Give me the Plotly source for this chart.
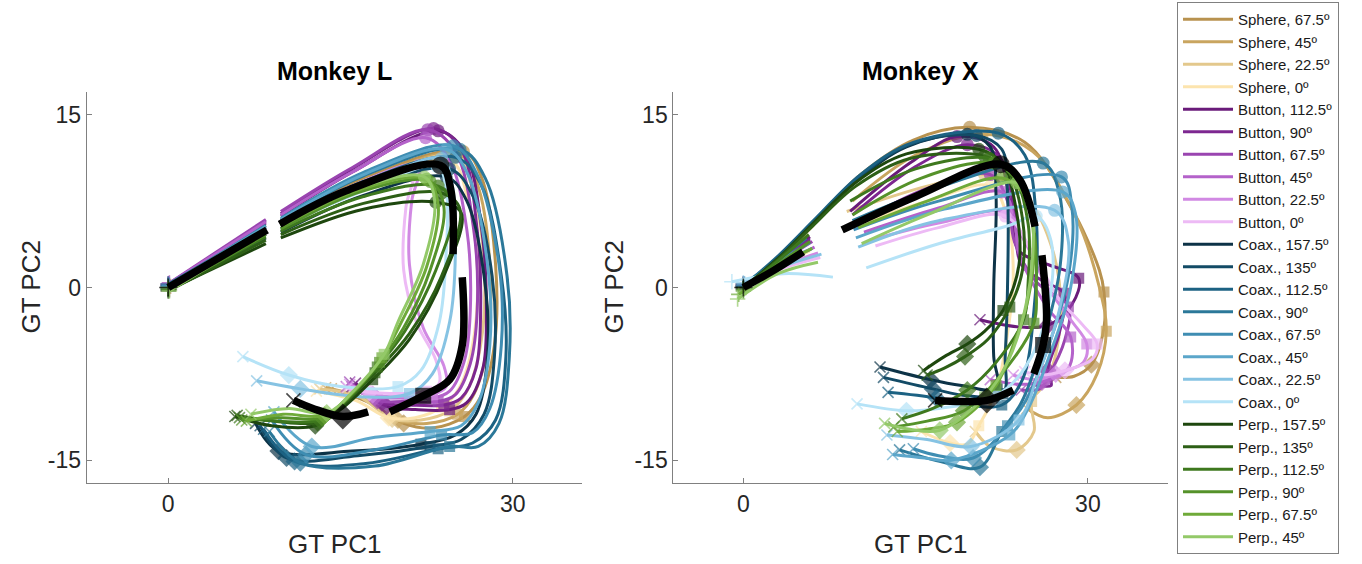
import plotly.graph_objects as go

# ---------------- conditions / colours ----------------
CONDITIONS = [
    "Sphere, 67.5º", "Sphere, 45º", "Sphere, 22.5º", "Sphere, 0º",
    "Button, 112.5º", "Button, 90º", "Button, 67.5º", "Button, 45º", "Button, 22.5º", "Button, 0º",
    "Coax., 157.5º", "Coax., 135º", "Coax., 112.5º", "Coax., 90º", "Coax., 67.5º", "Coax., 45º",
    "Coax., 22.5º", "Coax., 0º",
    "Perp., 157.5º", "Perp., 135º", "Perp., 112.5º", "Perp., 90º", "Perp., 67.5º", "Perp., 45º",
]
COLORS = [
    "#B8924F", "#C9A55F", "#E3C88C", "#FCE4AE",
    "#6A1B7A", "#7D2790", "#9A45B0", "#B462CA", "#D189E3", "#EDBAF5",
    "#0D3347", "#134B66", "#1C6283", "#2B7899", "#3F8DB2", "#5BA6CA", "#86C3E3", "#B5E3F7",
    "#1E470E", "#2D5F16", "#3E781E", "#55922A", "#6FAA39", "#93C968",
]

# Trajectories: (x, y) points, (x, y, event) where event is o=circle, s=square, d=diamond;
# None = gap. Start (+) is the first point, end (x) the last point.

# ---------------- Monkey L ----------------
L_SPHERE = [
    [(0.2, 0.1), (8.5, 5.4), None, (9.8, 5.9), (17, 9.5), (25.7, 11.8, 'o'), (27.3, 9.5), (28.5, 2), (28.4, -5), (27.2, -9.5), (25.8, -11.2, 's'), (23, -12.2), (20.5, -11.8, 'd'), (17.5, -10), (14.2, -8.8)],
    [(0, 0.1), (8.5, 5.2), None, (9.8, 5.7), (17, 9.2), (25.3, 11.6, 'o'), (26.9, 9), (28, 2), (27.8, -5), (26.6, -9.3), (25.2, -11, 's'), (22.5, -11.8), (20, -11.5, 'd'), (17, -9.6), (13.7, -8.7)],
    [(0, -0.1), (8.5, 5.0), None, (9.8, 5.5), (17, 9), (25, 11.4, 'o'), (26.5, 8.5), (27.5, 2), (27.2, -5), (26, -9), (24.5, -10.7, 's'), (22, -11.5), (19.5, -11.4, 'd'), (16.5, -9.4), (13.2, -8.8)],
    [(0.1, 0), (8.5, 4.9), None, (9.8, 5.4), (17, 8.8), (24.6, 11.0, 'o'), (26, 8), (26.9, 2), (26.5, -5), (25.3, -8.8), (23.8, -10.4, 's'), (21.5, -11.3), (19.2, -11.3, 'd'), (16.3, -9.8), (12.9, -9.0)],
]
L_BUTTON = [
    [(0, 0.3), (8.5, 5.6), None, (9.8, 6.2), (16, 10), (23.5, 13.6, 'o'), (25.8, 11.8), (27.3, 5), (27.7, -2), (27.4, -7), (26, -10), (24.5, -10.6, 's'), (21.5, -10.6), (19, -10.3, 'd'), (16.3, -8.3)],
    [(0, 0.2), (8.5, 5.8), None, (9.8, 6.4), (16, 10.3), (23.1, 13.8, 'o'), (25.5, 12), (26.9, 5), (27.2, -2), (26.8, -7), (25.5, -9.6), (24, -10.2, 's'), (21, -10.2), (18.6, -10, 'd'), (16, -8.6)],
    [(0.1, 0.4), (8.5, 5.9), None, (9.8, 6.6), (16, 10.4), (22.6, 13.7, 'o'), (25, 11.8), (26.6, 5), (26.9, -2), (26.3, -6.6), (25, -9.3), (23.5, -9.9, 's'), (20.5, -9.9), (18.2, -9.8, 'd'), (15.8, -8.2)],
    [(0, 0.3), (8.5, 5.7), None, (9.8, 6.3), (16, 10), (22.4, 13, 'o'), (24.5, 11), (26, 5), (26.3, -2), (25.8, -6.3), (24.5, -9), (23, -9.6, 's'), (20.2, -9.6), (18, -9.5, 'd'), (15.5, -8.6)],
    [(0.1, -0.2), (8.5, 5.2), None, (9.8, 5.8), (15.5, 8.6), (21.8, 10.6, 'o'), (21.2, 7.5), (21, 2), (22.2, -3.5), (24, -6.8), (24.2, -8.6), (23, -9.3, 's'), (20, -9.5), (17.8, -9.3, 'd'), (15.8, -8.4)],
    [(0, -0.3), (8.5, 5.0), None, (9.8, 5.6), (15.5, 8.4), (21.3, 10.2, 'o'), (20.7, 7), (20.5, 1.5), (21.6, -3), (23.3, -6.3), (23.6, -8.3), (22.5, -9, 's'), (19.5, -9.2), (17.5, -9.1, 'd'), (15.6, -8.7)],
]
L_COAX = [
    [(0, 0), (8.5, 4.3), None, (9.8, 4.8), (17, 8), (24.2, 9.6, 'o'), (26, 7.5), (27.5, 1), (27.8, -6), (26.8, -11), (25, -12.8), (22, -13.6, 's'), (16, -14.2), (9.6, -14.2, 'd'), (7.6, -11.8)],
    [(0, 0.1), (8.5, 4.6), None, (9.8, 5.1), (17, 8.5), (24.5, 10.3, 'o'), (26.5, 8), (28.2, 1), (28.4, -6), (27.5, -11), (25.5, -13.2), (22.8, -13.8, 's'), (16.5, -14.6), (10.3, -14.8, 'd'), (8, -12)],
    [(0, 0.2), (8.5, 5.0), None, (9.8, 5.5), (17, 9.2), (25, 11.3, 'o'), (27.2, 9), (29, 1), (29.4, -6), (28.5, -11.5), (26.5, -13.5), (23.5, -14, 's'), (17, -15.3), (11, -15.1, 'd'), (8.3, -12.3)],
    [(0, 0.3), (8.5, 5.2), None, (9.8, 5.8), (17, 9.7), (25.4, 12, 'o'), (27.6, 9.5), (29.5, 1), (29.7, -6), (28.8, -11.8), (27, -13.8), (24.5, -13.8, 's'), (18, -15.5), (11.5, -15.2, 'd'), (8.8, -12.5)],
    [(0.1, 0.2), (8.5, 5.4), None, (9.8, 6), (17, 10), (24.8, 12.3, 'o'), (26.8, 10), (28.8, 2), (29, -5), (28, -10.5), (26.5, -12.6), (23.8, -12.8, 's'), (18.5, -14), (12, -14.5, 'd'), (9, -11.5)],
    [(0, 0.1), (8.5, 5.3), None, (9.8, 5.9), (17, 9.8), (24.2, 12, 'o'), (26, 10), (27.8, 2), (28, -5), (27, -10), (25.5, -12), (22.8, -12.5, 's'), (18, -13), (12.5, -13.8, 'd'), (9.2, -10.8)],
    [(0, -0.1), (8.5, 5.0), None, (9.8, 5.5), (17, 8.8), (23.8, 11.2, 'o'), (24.7, 9), (25, 3), (24.5, -3), (23, -7.5), (21, -9.2, 's'), (17, -9.5), (11.5, -8.8, 'd'), (7.7, -8.1)],
    [(0, -0.2), (8.5, 4.8), None, (9.8, 5.3), (17, 8.4), (23.4, 10.5, 'o'), (24.2, 8.5), (24.2, 3), (23.6, -3), (22, -7.2), (20, -8.6, 's'), (15, -8.6), (10.5, -7.6, 'd'), (6.5, -6.0)],
]
L_PERP = [
    [(0, -0.2), (8.5, 3.8), None, (9.8, 4.3), (17, 6.8), (23.3, 7.4, 'o'), (25.5, 6.5), (24, 1), (21, -4.5), (17.8, -8, 's'), (15, -10.6), (12.8, -12, 'd'), (9, -12), (5.8, -11.2)],
    [(0, -0.3), (8.5, 4.1), None, (9.8, 4.6), (17, 7.3), (23.8, 8.2, 'o'), (25.4, 6.8), (23.8, 1), (21, -4), (18, -7.4, 's'), (15.2, -10.2), (13, -11.7, 'd'), (9.3, -11.6), (6, -11.1)],
    [(0, -0.1), (8.5, 4.4), None, (9.8, 4.9), (17, 7.9), (23.5, 8.8, 'o'), (24.8, 7), (23.3, 1.5), (20.6, -3.8), (18.2, -6.9, 's'), (15.5, -9.8), (13.2, -11.5, 'd'), (9.5, -11.6), (6.2, -11.3)],
    [(0.1, -0.2), (8.5, 4.6), None, (9.8, 5.1), (17, 8.4), (22.8, 9.2, 'o'), (24, 7), (22.8, 1.5), (20.5, -3.5), (18.4, -6.5, 's'), (15.7, -9.5), (13.4, -11.3, 'd'), (9.8, -11.3), (6.4, -11.5)],
    [(0, 0), (8.5, 4.8), None, (9.8, 5.3), (17, 8.6), (22.5, 9.4, 'o'), (23.5, 7.2), (22.5, 1.8), (20.2, -3.2), (18.6, -6.1, 's'), (16, -9.2), (13.6, -11.1, 'd'), (10, -11), (6.8, -11.6)],
    [(0.1, -0.3), (8.5, 4.9), None, (9.8, 5.4), (17, 8.8), (22.3, 9.6, 'o'), (23.2, 7.5), (22.2, 2), (20, -3), (18.8, -5.8, 's'), (16.2, -8.9), (13.8, -10.9, 'd'), (10.5, -10.5), (7.2, -11)],
]
L_MEAN = [(0, 0), (8.6, 5.0), None, (9.7, 5.5), (15.5, 8.4), (23.7, 10.6, 'o'), (24.6, 8.5), (24.8, 2.9), None,
          (25.6, 0.9), (25.6, -5), (24.5, -8), (22.2, -9.4, 's'), (19.3, -10.8), None,
          (17.4, -10.8), (15.2, -11.2, 'd'), (12.6, -10.5), (10.9, -9.8)]

# ---------------- Monkey X ----------------
X_SPHERE = [
    [(0, 0), (3.3, 2.8), (6.3, 5.9), (10.2, 9.8), (14.8, 12.8), (19.7, 13.9, 'o'), (24.5, 12.6), (28.5, 7), (31, 1.5), (31.4, -0.4, 's'), (31.4, -3.5), (30.3, -6.7, 'd'), (28.8, -7.7), (27.2, -7.8)],
    [(0, 0.1), (3.2, 2.6), (6.1, 5.4), None, (9.5, 7.5), (15, 11.5), (20.8, 13.3, 'o'), (25.2, 11.8), (29, 6), (31, 0), (31.6, -3.8, 's'), (30.8, -7.5), (29, -10.2, 'd'), (26.5, -11.3), (24.7, -10.5)],
    [(0, 0.2), (3, 2.2), (5.6, 4.1), None, (9, 6.6), (16, 8.8), (21, 9.8, 'o'), (24.5, 8), (27, 3), (27.6, -3), (26.5, -8), (25.1, -9.9, 's'), (25.3, -12.5), (23.8, -14.1, 'd'), (21.5, -13.8), (20.2, -12.5)],
    [(0, 0.3), (3, 1.8), (5.8, 3.2), None, (9.2, 5.2), (16, 7.5), (21.5, 8.8, 'o'), (23, 6), (23.5, 1), (23, -4), (22, -9), (20.5, -12, 's'), (19.5, -13.6), (18, -13.5, 'd'), (15.5, -12.5)],
]
X_BUTTON = [
    [(0, 0.2), (3, 2.3), (5.8, 4.4), None, (9.3, 6.6), (14.5, 10.8), (18.6, 13.1, 'o'), (21.8, 12.2), (23.2, 7.5), (24, 3.2), (26.5, 2), (29.2, 0.8, 's'), (28.6, -1.5), (26.5, -3.3, 'd'), (23.8, -3.4), (20.6, -2.8)],
    [(0, 0.3), (3, 2.2), (5.8, 4.2), None, (9.5, 6.3), (15, 10.5), (19.5, 12.4, 'o'), (22.3, 11.3), (23.6, 6.5), (24.2, 2), (26.2, 0.5), (27.9, -0.5, 's'), (27.5, -4), (26.5, -7.2, 'd'), (26.8, -8.5), (25.3, -8.4)],
    [(0.1, 0.2), (3, 2.1), (6, 4.0), None, (10, 5.6), (16, 8.6), (21.5, 9.8, 'o'), (23, 7.5), (23.6, 4), (25.5, 0.5), (28.3, -1.7, 's'), (28, -4.5), (26.5, -7.8, 'd'), (25.8, -8.8), (24.2, -8.9)],
    [(0, 0.1), (3, 1.9), (6.2, 3.5), None, (10.5, 4.8), (17, 6.9), (22.5, 8.3, 'o'), (23.6, 6), (24, 3), (26.5, -1.8), (28.5, -4.3, 's'), (28.3, -7), (26, -8.2, 'd'), (24, -8.4), (21.5, -8.0)],
    [(0, 0), (3, 1.7), (6.5, 3), None, (11, 4.1), (17, 5.6), (22.9, 6.5, 'o'), (24.5, 4), (26.5, 0), (28.5, -2.8), (29.9, -4.9, 's'), (29.6, -6.5), (27.2, -7.5, 'd'), (25.5, -8), (23.5, -7.6)],
    [(0, -0.1), (3, 1.5), (6.7, 2.6), None, (11.5, 3.6), (17, 5.2), (22.8, 6.2, 'o'), (25.2, 3), (27.5, -1), (29.5, -3.2), (30.8, -4.9, 's'), (30.4, -6.2), (28, -7.2, 'd'), (26, -7.6), (24.5, -7.3)],
]
X_COAX = [
    [(0, 0.1), (3.2, 2.7), (6.1, 5.6), (9.9, 9.3), (14.2, 12.2), (19.5, 13.3, 'o'), (21.5, 12.2), (22, 8), (21.8, 0), (21.8, -6), (22.1, -8.8, 's'), (19, -8.5), (16.3, -8, 'd'), (11.9, -6.9)],
    [(0, 0), (3.2, 2.8), (6.2, 5.8), (10, 9.5), (14.5, 12.4), (20.3, 13.2, 'o'), (22.5, 12), (23, 8), (23, 0), (22.8, -6), (22.6, -9.2, 's'), (19.5, -9.4), (16.5, -8.8, 'd'), (12.2, -7.8)],
    [(0, 0.1), (3.2, 2.9), (6.3, 6), (10.2, 9.8), (14.8, 12.6), (22.2, 13.4, 'o'), (24.5, 11.5), (25.5, 6), (25.3, -2), (24.3, -8), (22.5, -10.2, 's'), (19.5, -10.2), (16.8, -9.6, 'd'), (12.6, -9.1)],
    [(0, 0.3), (3, 2.4), (5.5, 4.3), None, (9.5, 5.8), (17, 8.7), (26.1, 10.8, 'o'), (27.5, 8.2), (27.6, 2), (26, -5), (24.2, -10), (22.5, -12.5, 's'), (20.6, -15.6, 'd'), (17.5, -15.2), (13.6, -14.1)],
    [(0, 0.2), (3, 2.2), (5.8, 3.9), None, (9.6, 5.0), (17, 7.5), (27.7, 9.6, 'o'), (28.6, 7), (28.3, 1), (26.6, -5), (24.6, -9.8), (23, -12, 's'), (20, -14.8, 'd'), (17, -14.6), (14.8, -14)],
    [(0.1, 0.3), (3, 2), (6, 3.4), None, (9.8, 4.3), (17.5, 6.8), (27.8, 8.3, 'o'), (28.9, 6.5), (28.5, 0), (26.8, -5.5), (24.8, -10.5), (23.2, -12.8, 's'), (18.1, -15, 'd'), (15.8, -14.8), (13, -14.5)],
    [(0, 0.4), (3, 1.7), (6.8, 2.9), None, (10, 3.5), (17, 5.8), (27.1, 6.7, 'o'), (28.3, 4), (27.5, -2), (25.5, -8), (24, -11.5, 's'), (19.8, -13.8, 'd'), (16, -13.2), (12.5, -12.8)],
    [(-1, 0.5), (3.5, 1.2), (7.8, 0.9), None, (10.7, 1.7), (17, 3.8), (23.2, 5.4), (25.5, 6.2, 'o'), (26.8, 4), (26.5, -2), (24.5, -7), (22, -9.4, 's'), (17, -10.5), (14.2, -10.7, 'd'), (9.9, -10.1)],
]
X_PERP = [
    [(0, 0), (3.2, 2.7), (6.1, 5.6), (9.9, 9.2), (14.2, 11.6), (20.5, 12.0, 'o'), (22.5, 10.8), (23.8, 6.5), (24, 2), (22.6, -2, 's'), (21, -3.8), (19.5, -4.9, 'd'), (17.5, -6), (15.7, -7.2)],
    [(0, -0.1), (3.2, 2.6), (6, 5.3), (9.8, 8.8), (14.5, 11.2), (21, 11.4, 'o'), (23, 10.2), (24.3, 6), (24.3, 1.5), (23.2, -1.7, 's'), (21.3, -4.5), (19.3, -6, 'd'), (17.5, -7), (16, -7.6)],
    [(0, -0.2), (3, 2.3), (5.7, 4.6), None, (9.3, 7.5), (15, 10.3), (21.4, 11.2, 'o'), (23.5, 9.8), (24.8, 5.5), (24.8, 0.5), (24.4, -2.8, 's'), (22, -6.5), (19.5, -8.9, 'd'), (16.5, -10.5), (13.8, -11.4)],
    [(0, -0.3), (3, 2), (5.8, 4.0), None, (9.5, 6.3), (15.5, 9.5), (21.8, 10.8, 'o'), (24, 9), (25.3, 5), (25.5, 0), (25.3, -3.1, 's'), (22.5, -7.5), (19.2, -10.7, 'd'), (16, -11.6), (13.1, -12.1)],
    [(-0.4, -0.6), (3, 1.8), (6, 3.4), None, (10, 5.2), (16, 7.5), (22.5, 9.5, 'o'), (24.5, 8), (25.3, 4), (24.8, -1), (23.5, -5), (22, -8.5, 's'), (18.6, -11.7, 'd'), (16, -12.3), (13.4, -12.5)],
    [(-0.5, -1.0), (3, 1.2), (6.5, 2.2), None, (10.3, 3.8), (16, 6.3), (23.8, 9.1, 'o'), (25, 7.5), (25.2, 3), (24.5, -2), (23, -6.5), (21, -9.5, 's'), (17.1, -12.4, 'd'), (14.5, -12.3), (12.3, -11.8)],
]
X_MEAN = [(0, 0), (2.5, 1.4), (5.2, 3.1), None, (8.6, 5.0), (15, 7.9), (22.4, 10.7, 'o'), (24.1, 9.3), (25.4, 5.3), None,
          (26.0, 2.8), (26.4, -2.8), (26.1, -5.0, 's'), (25.3, -7.5), None,
          (23.5, -8.9), (21.2, -9.8, 'd'), (19, -9.9), (16.7, -9.8)]

X_TICKS = [0, 30]
Y_TICKS = [-15, 0, 15]

FONT = "Liberation Sans, Arial, sans-serif"
TXT = "#262626"

fig = go.Figure()


def unpack(path):
    xs, ys = [], []
    pts = [p for p in path if p is not None]
    for p in path:
        if p is None:
            xs.append(None)
            ys.append(None)
        else:
            xs.append(p[0])
            ys.append(p[1])
    return xs, ys, pts


def add_path(path, color, name, axis, showlegend, rank, big=False):
    xs, ys, pts = unpack(path)
    xa, ya = axis
    fig.add_trace(go.Scatter(
        x=xs, y=ys, mode="lines", name=name, legendrank=rank,
        showlegend=showlegend, connectgaps=False,
        line=dict(color=color, width=7.5 if big else 3, shape="spline", smoothing=1.0),
        xaxis=xa, yaxis=ya, hoverinfo="skip"))
    mk = {'o': ("circle", 18 if big else 13), 's': ("square", 16 if big else 11),
          'd': ("diamond", 20 if big else 14)}
    mx, my, sym, size, lw = [], [], [], [], []
    st = pts[0]
    mx.append(st[0]); my.append(st[1]); sym.append("cross-thin"); size.append(13 if big else 11); lw.append(1.6)
    for p in pts:
        if len(p) > 2:
            s, z = mk[p[2]]
            mx.append(p[0]); my.append(p[1]); sym.append(s); size.append(z); lw.append(0)
    en = pts[-1]
    mx.append(en[0]); my.append(en[1]); sym.append("x-thin"); size.append(14 if big else 11); lw.append(1.6)
    fig.add_trace(go.Scatter(
        x=mx, y=my, mode="markers", showlegend=False,
        marker=dict(symbol=sym, size=size, color=color, line=dict(color=color, width=lw)),
        xaxis=xa, yaxis=ya, hoverinfo="skip"))


for axis, fams, mean, show in [(("x", "y"), [L_SPHERE, L_BUTTON, L_COAX, L_PERP], L_MEAN, True),
                               (("x2", "y2"), [X_SPHERE, X_BUTTON, X_COAX, X_PERP], X_MEAN, False)]:
    paths = [p for fam in fams for p in fam]
    for i, p in enumerate(paths):
        add_path(p, COLORS[i], CONDITIONS[i], axis, show, i)
    add_path(mean, "#000000", "mean", axis, False, 100, big=True)

W, H = 1362, 564
xdom_L = [86.7 / W, 581.7 / W]
xdom_X = [673.3 / W, 1168.3 / W]
ydom = [1 - 483 / H, 1 - 92 / H]

axis_common = dict(showline=True, linecolor="#808080", linewidth=1, ticks="inside", ticklen=5,
                   tickcolor="#808080", showgrid=False, zeroline=False, automargin=False,
                   tickfont=dict(family=FONT, size=23, color=TXT), mirror=False)
xt = dict(tickvals=X_TICKS, ticktext=[str(v) for v in X_TICKS])
yt = dict(tickvals=Y_TICKS, ticktext=[str(v) for v in Y_TICKS])

fig.update_layout(
    width=W, height=H, margin=dict(l=0, r=0, t=0, b=0),
    paper_bgcolor="white", plot_bgcolor="white", template="none",
    xaxis=dict(domain=xdom_L, range=[-7.1, 36.0], anchor="y", **xt, **axis_common),
    yaxis=dict(domain=ydom, range=[-16.97, 16.97], anchor="x", **yt, **axis_common),
    xaxis2=dict(domain=xdom_X, range=[-6.1, 37.0], anchor="y2", **xt, **axis_common),
    yaxis2=dict(domain=ydom, range=[-16.97, 16.97], anchor="x2", **yt, **axis_common),
    legend=dict(x=1177 / W, y=1 - 2 / H, xanchor="left", yanchor="top",
                bordercolor="#808080", borderwidth=1, bgcolor="white",
                font=dict(family=FONT, size=15, color="#1a1a1a"), itemwidth=50,
                traceorder="normal"),
    showlegend=True,
)

ann = []
for cx, title in [((xdom_L[0] + xdom_L[1]) / 2, "Monkey L"), ((xdom_X[0] + xdom_X[1]) / 2, "Monkey X")]:
    ann.append(dict(x=cx, y=1 - 71 / H, xref="paper", yref="paper", text="<b>%s</b>" % title,
                    showarrow=False, font=dict(family=FONT, size=25, color="#000000"),
                    xanchor="center", yanchor="middle"))
    ann.append(dict(x=cx, y=1 - 544 / H, xref="paper", yref="paper", text="GT PC1",
                    showarrow=False, font=dict(family=FONT, size=26, color=TXT),
                    xanchor="center", yanchor="middle"))
for px in [30, 613]:
    ann.append(dict(x=px / W, y=(ydom[0] + ydom[1]) / 2, xref="paper", yref="paper", text="GT PC2",
                    showarrow=False, textangle=-90, font=dict(family=FONT, size=26, color=TXT),
                    xanchor="center", yanchor="middle"))
fig.update_layout(annotations=ann)

fig.write_html("out.html")
